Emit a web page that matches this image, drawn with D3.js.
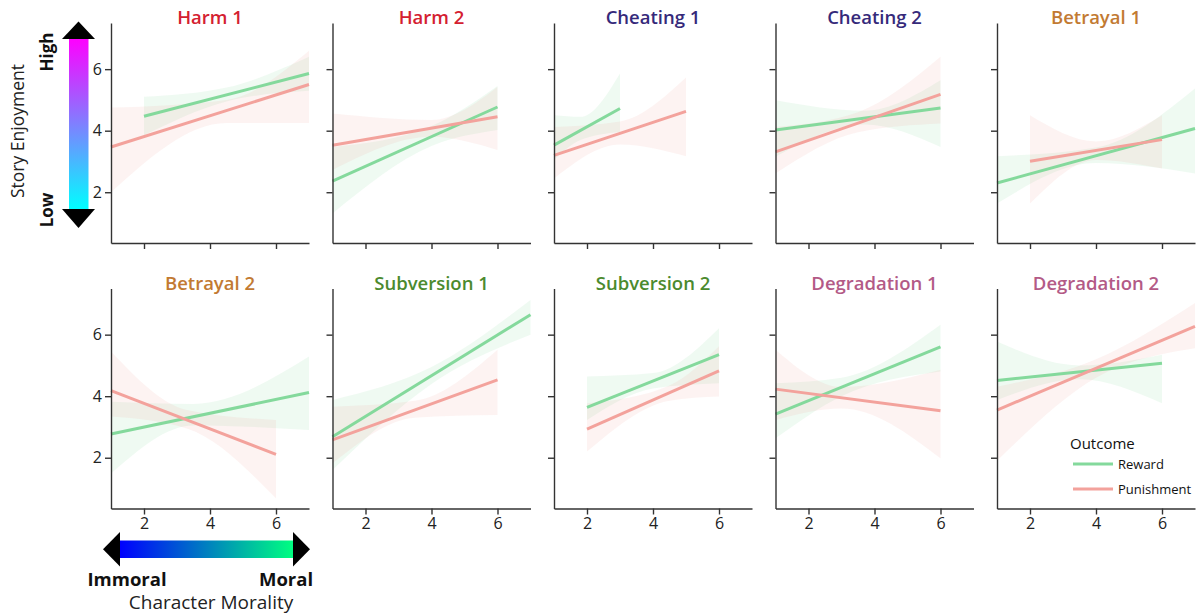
<!DOCTYPE html>
<html>
<head>
<meta charset="utf-8">
<script src="https://cdn.jsdelivr.net/npm/d3@7"></script>
<style>
  html, body { margin: 0; padding: 0; background: #fff; }
  svg { display: block; font-family: "Open Sans", "Noto Sans", sans-serif; }
</style>
</head>
<body>
<svg id="chart" width="1202" height="614"></svg>
<script>
// ---- data ----------------------------------------------------------------
const panels = ["Harm 1", "Harm 2", "Cheating 1", "Cheating 2", "Betrayal 1",
                "Betrayal 2", "Subversion 1", "Subversion 2", "Degradation 1", "Degradation 2"];
const outcomes = ["Reward", "Punishment"];
const xTicks = [2, 4, 6];
const yTicks = [2, 4, 6];

// fitted line: [x start, x end] and [y start, y end]
const rewardX = [[2, 7], [1, 6], [1, 3], [1, 6], [1, 7], [1, 7], [1, 7], [2, 6], [1, 6], [1, 6]];
const rewardY = [[4.47, 5.86], [2.36, 4.77], [3.53, 4.72], [4.02, 4.74], [2.30, 4.07],
                 [2.77, 4.12], [2.68, 6.65], [3.64, 5.35], [3.42, 5.60], [4.51, 5.07]];
const punishX = [[1, 7], [1, 6], [1, 5], [1, 6], [2, 6], [1, 6], [1, 6], [2, 6], [1, 6], [1, 7]];
const punishY = [[3.47, 5.50], [3.53, 4.45], [3.20, 4.63], [3.31, 5.18], [3.01, 3.71],
                 [4.18, 2.11], [2.58, 4.53], [2.93, 4.82], [4.23, 3.53], [3.55, 6.27]];

// confidence band: [x, lower, upper]
const rewardBand = [
  [[2, 3.85, 5.10], [4.5, 4.95, 5.40], [7, 5.30, 6.40]],
  [[1, 1.31, 3.47], [4, 3.50, 4.15], [6, 4.02, 5.45]],
  [[1, 3.05, 4.50], [1.8, 3.70, 4.45], [3, 3.96, 5.86]],
  [[1, 3.15, 4.99], [3.7, 4.20, 4.65], [6, 3.47, 5.64]],
  [[1, 1.63, 3.17], [4, 2.95, 3.45], [7, 2.61, 5.37]],
  [[1, 1.49, 3.82], [3.5, 3.05, 3.75], [7, 2.90, 5.29]],
  [[1, 1.60, 3.88], [4, 4.40, 4.95], [7, 6.00, 7.13]],
  [[2, 3.23, 4.64], [4, 4.25, 4.75], [6, 4.42, 6.21]],
  [[1, 2.63, 4.42], [3, 4.00, 4.60], [6, 4.80, 6.32]],
  [[1, 3.88, 5.78], [3.5, 4.55, 5.00], [6, 3.77, 5.35]]
];
const punishBand = [
  [[1, 2.00, 4.75], [4.5, 4.25, 5.00], [7, 4.25, 6.60]],
  [[1, 2.72, 4.56], [4, 3.80, 4.35], [6, 3.37, 5.42]],
  [[1, 2.45, 4.12], [3, 3.55, 4.30], [5, 3.17, 5.73]],
  [[1, 2.61, 4.12], [3.5, 3.95, 4.60], [6, 4.23, 6.40]],
  [[2, 1.63, 4.50], [4, 3.05, 3.65], [6, 2.77, 4.50]],
  [[1, 3.34, 5.45], [3.3, 2.95, 3.55], [6, 0.68, 3.23]],
  [[1, 1.82, 3.66], [3.5, 3.30, 3.85], [6, 3.39, 5.51]],
  [[2, 2.20, 3.77], [4.5, 3.85, 4.35], [6, 3.99, 5.62]],
  [[1, 3.23, 5.51], [3, 3.60, 4.30], [6, 1.98, 4.86]],
  [[1, 1.90, 4.31], [4, 4.60, 5.20], [7, 5.56, 7.03]]
];

// ---- styles & layout -----------------------------------------------------
const foundationColor = {
  Harm: "#d42030", Cheating: "#35297a", Betrayal: "#c27a32",
  Subversion: "#4b8a2e", Degradation: "#b35a86"
};
const lineColor = { Reward: "#84d99c", Punishment: "#f3a29c" };
const bandOpacity = 0.13;
const textColor = "#222";

const cols = 5;
const colLeft = c => 111 + c * 221.5;
const rowTop = [23, 288.5];
const plotW = 198, plotH = 220;

const svg = d3.select("#chart");

const defs = svg.append("defs");
const gv = defs.append("linearGradient").attr("id", "enjoyGrad")
  .attr("x1", 0).attr("y1", 1).attr("x2", 0).attr("y2", 0);
gv.append("stop").attr("offset", 0).attr("stop-color", "#00ffff");
gv.append("stop").attr("offset", 1).attr("stop-color", "#ff00ff");
const gh = defs.append("linearGradient").attr("id", "moralGrad")
  .attr("x1", 0).attr("y1", 0).attr("x2", 1).attr("y2", 0);
gh.append("stop").attr("offset", 0).attr("stop-color", "#0000ff");
gh.append("stop").attr("offset", 1).attr("stop-color", "#00ff80");

panels.forEach((name, i) => {
  const c = i % cols, r = Math.floor(i / cols);
  const g = svg.append("g").attr("transform", `translate(${colLeft(c)},${rowTop[r]})`);
  const x = d3.scaleLinear().domain([1, 7]).range([0, plotW]);
  const y = d3.scaleLinear().domain([0.35, 7.5]).range([plotH, 0]);

  const area = d3.area().x(d => x(d[0])).y0(d => y(d[1])).y1(d => y(d[2]))
    .curve(d3.curveMonotoneX);
  const line = d3.line().x(d => x(d[0])).y(d => y(d[1]));

  const series = [
    { key: "Reward", band: rewardBand[i], xs: rewardX[i], ys: rewardY[i] },
    { key: "Punishment", band: punishBand[i], xs: punishX[i], ys: punishY[i] }
  ];
  series.forEach(s => {
    g.append("path").attr("d", area(s.band))
      .attr("fill", lineColor[s.key]).attr("fill-opacity", bandOpacity);
  });
  series.forEach(s => {
    g.append("path").attr("d", line([[s.xs[0], s.ys[0]], [s.xs[1], s.ys[1]]]))
      .attr("fill", "none").attr("stroke", lineColor[s.key]).attr("stroke-width", 3);
  });

  const ax = d3.axisBottom(x).tickValues(xTicks).tickSize(6).tickSizeOuter(0).tickPadding(3)
    .tickFormat(r === 1 ? d3.format("d") : () => "");
  const ay = d3.axisLeft(y).tickValues(yTicks).tickSize(6).tickSizeOuter(0).tickPadding(3)
    .tickFormat(c === 0 ? d3.format("d") : () => "");
  const gx = g.append("g").attr("transform", `translate(0,${plotH})`).call(ax);
  const gy = g.append("g").call(ay);
  [gx, gy].forEach(a => {
    a.selectAll("path, line").attr("stroke", "#333").attr("stroke-width", 1.4);
    a.selectAll("text").attr("fill", textColor).style("font-size", "16px")
      .style("font-family", '"Open Sans", sans-serif');
  });

  g.append("text").attr("x", plotW / 2).attr("y", 1)
    .attr("text-anchor", "middle")
    .attr("fill", foundationColor[name.split(" ")[0]])
    .style("font-size", "18.5px").style("font-weight", 600)
    .text(name);
});

// y-axis title with enjoyment scale arrow
svg.append("text").attr("transform", "translate(24,131) rotate(-90)")
  .attr("text-anchor", "middle").attr("fill", textColor)
  .style("font-size", "17.5px").text("Story Enjoyment");
svg.append("rect").attr("x", 69).attr("y", 38.5).attr("width", 19.5).attr("height", 171)
  .attr("fill", "url(#enjoyGrad)");
svg.append("path").attr("d", "M62,39 L78.5,21.5 L95,39 Z").attr("fill", "#000");
svg.append("path").attr("d", "M62,209 L78.5,228 L95,209 Z").attr("fill", "#000");
svg.append("text").attr("transform", "translate(53,52) rotate(-90)")
  .attr("text-anchor", "middle").attr("fill", "#111")
  .style("font-size", "17px").style("font-weight", 700).text("High");
svg.append("text").attr("transform", "translate(53,210) rotate(-90)")
  .attr("text-anchor", "middle").attr("fill", "#111")
  .style("font-size", "17px").style("font-weight", 700).text("Low");

// x-axis title with morality scale arrow
svg.append("rect").attr("x", 119.5).attr("y", 540.5).attr("width", 174).attr("height", 17.5)
  .attr("fill", "url(#moralGrad)");
svg.append("path").attr("d", "M120,532 L103,549.2 L120,566.5 Z").attr("fill", "#000");
svg.append("path").attr("d", "M293,532 L310,549.2 L293,566.5 Z").attr("fill", "#000");
svg.append("text").attr("x", 127).attr("y", 585.5).attr("text-anchor", "middle")
  .attr("fill", "#111").style("font-size", "18.5px").style("font-weight", 700).text("Immoral");
svg.append("text").attr("x", 286).attr("y", 585.5).attr("text-anchor", "middle")
  .attr("fill", "#111").style("font-size", "18.5px").style("font-weight", 700).text("Moral");
svg.append("text").attr("x", 211).attr("y", 608.5).attr("text-anchor", "middle")
  .attr("fill", textColor).style("font-size", "19px").text("Character Morality");

// legend
const leg = svg.append("g").attr("transform", "translate(1070,0)");
leg.append("text").attr("x", 0).attr("y", 449).attr("fill", "#111")
  .style("font-size", "15px").text("Outcome");
outcomes.forEach((o, k) => {
  const yy = 464 + k * 25;
  leg.append("line").attr("x1", 3).attr("x2", 43).attr("y1", yy).attr("y2", yy)
    .attr("stroke", lineColor[o]).attr("stroke-width", 3);
  leg.append("text").attr("x", 48).attr("y", yy + 4.5).attr("fill", "#111")
    .style("font-size", "13px").text(o);
});
</script>
</body>
</html>
